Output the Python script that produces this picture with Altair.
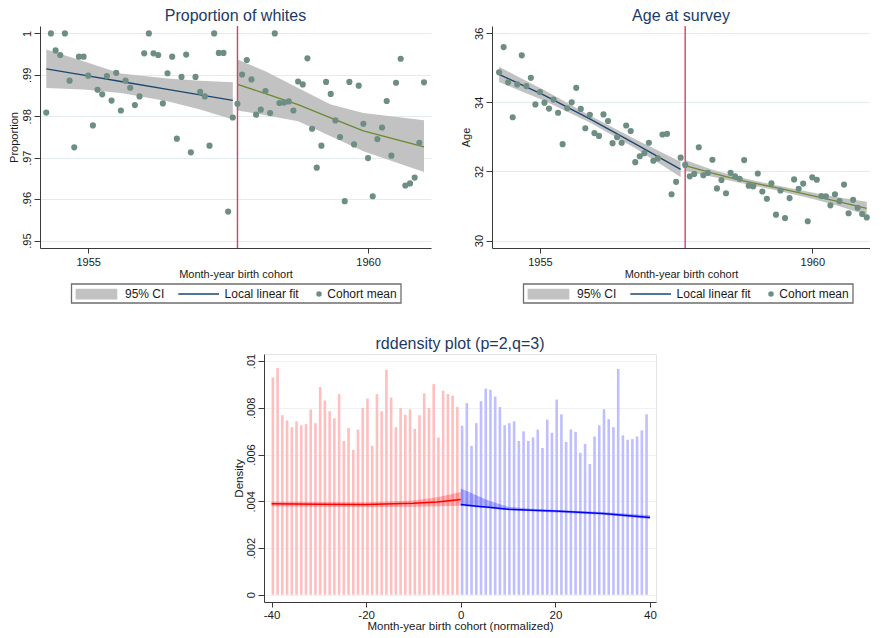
import altair as alt
import pandas as pd

FONT = "Liberation Sans"
CUT = 1957 + 8 / 12  # cutoff cohort (Sep 1957)

# ---------------- data: cohort means (months relative to cutoff) ----------------
months = list(range(-41, 41))

prop_white = [
    0.9809, 1.0, 0.9959, 0.9948, 1.0, 0.9886, 0.9725, 0.9944, 0.9944, 0.9898,
    0.9778, 0.9864, 0.9853, 0.9897, 0.9838, 0.9905, 0.9814, 0.9886, 0.9869, 0.9827,
    0.9848, 0.9952, 1.0, 0.9952, 0.9948, 0.9831, 0.9904, 0.9944, 0.9746, 0.9895,
    0.9949, 0.9713, 0.9895, 0.9859, 0.9848, 0.9729, 1.0, 0.9953, 0.9953, 0.9570,
    0.9797, 0.9830,
    0.9901, 0.9936, 0.9889, 0.9804, 0.9816, 0.9861, 0.9808, 1.0, 0.9832, 0.9833,
    0.9836, 0.9814, 0.9884, 0.9877, 0.9940, 0.9770, 0.9676, 0.9729, 0.9883, 0.9854,
    0.9790, 0.9750, 0.9595, 0.9883, 0.9732, 0.9874, 0.9782, 0.9699, 0.9607, 0.9745,
    0.9773, 0.9837, 0.9705, 0.9881, 0.9939, 0.9633, 0.9638, 0.9652, 0.9736, 0.9882,
]

age_survey = [
    34.87, 35.60, 34.58, 33.57, 34.52, 35.36, 34.47, 34.71, 33.94, 34.30,
    33.99, 33.82, 34.08, 33.70, 32.79, 33.83, 34.00, 34.42, 33.81, 33.25,
    33.64, 33.11, 33.03, 33.65, 33.46, 32.82, 32.99, 32.83, 33.33, 33.17,
    32.27, 32.44, 32.53, 32.83, 32.31, 32.38, 33.07, 33.09, 31.34, 31.70,
    32.40, 32.19,
    31.86, 31.93, 32.70, 31.89, 31.96, 32.34, 31.51, 31.75, 31.37, 31.96,
    31.86, 31.79, 32.33, 31.59, 31.57, 31.94, 31.42, 31.21, 31.66, 30.75,
    31.45, 30.65, 31.23, 31.77, 31.50, 31.65, 30.56, 31.83, 31.76, 31.29,
    31.28, 31.02, 31.34, 31.14, 31.62, 30.79, 31.18, 30.95, 30.77, 30.67,
]

# ---------------- local linear fits with 95% CI ----------------
pw_left_m = [-41, -33, -25, -15, -8, -1]
pw_left_fit = [0.99145, 0.98992, 0.98840, 0.98649, 0.98515, 0.98382]
pw_left_lo = [0.98686, 0.98645, 0.98560, 0.98365, 0.98164, 0.97923]
pw_left_hi = [0.99613, 0.99330, 0.99034, 0.98913, 0.98860, 0.98824]

pw_right_m = [0, 6, 13, 20, 27, 40]
pw_right_fit = [0.98768, 0.98550, 0.98280, 0.97960, 0.97650, 0.97261]
pw_right_lo = [0.98140, 0.98027, 0.97882, 0.97519, 0.97157, 0.96657]
pw_right_hi = [0.99372, 0.99089, 0.98686, 0.98285, 0.98082, 0.97906]

age_left_m = [-41, -31, -21, -11, -1]
age_left_fit = [34.81, 34.20, 33.52, 32.80, 32.06]
age_left_lo = [34.59, 34.05, 33.42, 32.67, 31.84]
age_left_hi = [35.03, 34.35, 33.62, 32.93, 32.28]

age_right_m = [0, 6, 12, 20, 28, 34, 40]
age_right_fit = [32.17, 31.95, 31.75, 31.53, 31.30, 31.12, 30.93]
age_right_lo = [32.01, 31.85, 31.67, 31.46, 31.21, 30.99, 30.74]
age_right_hi = [32.33, 32.05, 31.83, 31.60, 31.39, 31.25, 31.12]

legend_labels = ["95% CI", "Local linear fit", "Cohort mean"]
titles = ["Proportion of whites", "Age at survey", "rddensity plot (p=2,q=3)"]

# ---------------- rddensity histogram & density estimates ----------------
bins_left = list(range(-40, 0))
dens_left = [
    0.00930, 0.00970, 0.00768, 0.00746, 0.00717, 0.00742, 0.00725, 0.00730, 0.00793, 0.00734,
    0.00889, 0.00831, 0.00785, 0.00755, 0.00858, 0.00658, 0.00714, 0.00620, 0.00707, 0.00799,
    0.00839, 0.00637, 0.00858, 0.00785, 0.00962, 0.00844, 0.00717, 0.00799, 0.00770, 0.00793,
    0.00710, 0.00768, 0.00862, 0.00799, 0.00901, 0.00673, 0.00873, 0.00859, 0.00852, 0.00803,
]
bins_right = list(range(0, 40))
dens_right = [
    0.00723, 0.00820, 0.00637, 0.00734, 0.00828, 0.00882, 0.00877, 0.00848, 0.00803, 0.00725,
    0.00734, 0.00742, 0.00658, 0.00699, 0.00658, 0.00673, 0.00707, 0.00628, 0.00749, 0.00693,
    0.00835, 0.00772, 0.00654, 0.00707, 0.00697, 0.00607, 0.00645, 0.00559, 0.00677, 0.00725,
    0.00794, 0.00751, 0.00717, 0.00966, 0.00682, 0.00663, 0.00666, 0.00677, 0.00703, 0.00772,
]

red_x = [-40, -30, -20, -10, -5, 0]
red_fit = [0.00389, 0.00387, 0.00386, 0.00391, 0.00397, 0.00408]
red_lo = [0.00379, 0.00377, 0.00375, 0.00377, 0.00379, 0.00381]
red_hi = [0.00399, 0.00397, 0.00396, 0.00403, 0.00417, 0.00440]

blue_x = [0, 2, 4, 6, 8, 10, 15, 20, 30, 40]
blue_fit = [0.00386, 0.00382, 0.00378, 0.00374, 0.00370, 0.00366, 0.00361, 0.00358, 0.00348, 0.00331]
blue_lo = [0.00380, 0.00376, 0.00373, 0.00369, 0.00365, 0.00362, 0.00357, 0.00352, 0.00342, 0.00324]
blue_hi = [0.00455, 0.00437, 0.00419, 0.00402, 0.00389, 0.00377, 0.00368, 0.00363, 0.00354, 0.00340]

# ---------------- styling ----------------
TITLE_C = "#1c3a66"
TEAL = "#6e8e84"
NAVY = "#1a476f"
OLIVE = "#6a8a2e"
CUTRED = "#d8405f"
GRAY = "#c2c2c2"
AXIS_C = "#3a3a3a"
GRID_C = "#e2ebee"
TXT_C = "#1a1a1a"

XTITLE = "Month-year birth cohort"
ONE = pd.DataFrame({"k": [0]})


def to_year(ms):
    return [CUT + m / 12 for m in ms]


def title_mark(text, width, ypos):
    return alt.Chart(ONE).mark_text(align="center", baseline="alphabetic", fontSize=16,
                                    color=TITLE_C, font=FONT).encode(
        x=alt.value(width / 2), y=alt.value(ypos), text=alt.value(text))


def legend_layers(line_color):
    one = alt.Chart(ONE)
    box = one.mark_rect(fill="white", stroke="#6e6e6e", strokeWidth=1.3).encode(
        x=alt.value(31.5), x2=alt.value(361), y=alt.value(258), y2=alt.value(277))
    sw = one.mark_rect(color=GRAY).encode(
        x=alt.value(35.6), x2=alt.value(77.3), y=alt.value(262.7), y2=alt.value(273.4))
    ln = one.mark_rule(color=line_color, strokeWidth=1.3).encode(
        x=alt.value(138.3), x2=alt.value(179), y=alt.value(268))
    pt = one.mark_circle(size=30, color=TEAL, opacity=1).encode(
        x=alt.value(279), y=alt.value(268))
    texts = []
    for lab, xp in zip(legend_labels, [85, 184.6, 287.3]):
        texts.append(one.mark_text(align="left", baseline="middle", fontSize=12,
                                   color=TXT_C, font=FONT).encode(
            x=alt.value(xp), y=alt.value(268.2), text=alt.value(lab)))
    return [box, sw, ln, pt] + texts


def panel(values, ydom, yvals, ylabexpr, ytitle, title, xdom, width,
          lm, lfit, llo, lhi, rm, rfit, rlo, rhi):
    xscale = alt.Scale(domain=xdom, nice=False, zero=False)
    yscale = alt.Scale(domain=ydom, nice=False, zero=False)
    xaxis = alt.Axis(values=[1955, 1960], format="d", grid=False, tickSize=5,
                     labelFontSize=11, titleFontSize=11, labelPadding=3,
                     titlePadding=1, domainColor=AXIS_C, tickColor=AXIS_C,
                     labelColor=TXT_C, titleColor=TXT_C, titleFontWeight="normal")
    yaxis = alt.Axis(values=yvals, labelExpr=ylabexpr, grid=True, gridColor=GRID_C,
                     tickSize=6, labelAngle=270, labelAlign="center",
                     labelBaseline="bottom", labelFontSize=11, titleFontSize=11,
                     labelPadding=2, titlePadding=2, domainColor=AXIS_C,
                     tickColor=AXIS_C, labelColor=TXT_C, titleColor=TXT_C,
                     titleFontWeight="normal")

    def X(f):
        return alt.X(f, type="quantitative", scale=xscale, axis=xaxis, title=XTITLE)

    def Y(f):
        return alt.Y(f, type="quantitative", scale=yscale, axis=yaxis, title=ytitle)

    pts = pd.DataFrame({"year": to_year(months), "v": values})
    fl = pd.DataFrame({"year": to_year(lm), "fit": lfit, "lo": llo, "hi": lhi})
    fr = pd.DataFrame({"year": to_year(rm), "fit": rfit, "lo": rlo, "hi": rhi})
    cut = pd.DataFrame({"year": [CUT]})

    band_l = alt.Chart(fl).mark_area(color=GRAY, opacity=1).encode(
        x=X("year"), y=Y("lo"), y2="hi")
    band_r = alt.Chart(fr).mark_area(color=GRAY, opacity=1).encode(
        x=X("year"), y=Y("lo"), y2="hi")
    line_l = alt.Chart(fl).mark_line(color=NAVY, strokeWidth=1.3).encode(
        x=X("year"), y=Y("fit"))
    line_r = alt.Chart(fr).mark_line(color=OLIVE, strokeWidth=1.3).encode(
        x=X("year"), y=Y("fit"))
    rule = alt.Chart(cut).mark_rule(color=CUTRED, strokeWidth=1.4).encode(x=X("year"))
    dots = alt.Chart(pts).mark_circle(size=38, color=TEAL, opacity=1).encode(
        x=X("year"), y=Y("v"))

    layers = ([band_l, band_r, line_l, line_r, rule, dots] + legend_layers(NAVY)
              + [title_mark(title, width, -5)])
    return alt.layer(*layers).properties(width=width, height=222)


left = panel(prop_white, [0.9482, 1.0018], [0.95, 0.96, 0.97, 0.98, 0.99, 1.0],
             "datum.value > 0.9999 ? '1' : replace(format(datum.value, '.2f'), '0.', '.')",
             "Proportion", titles[0], [1954.138, 1961.125], 391,
             pw_left_m, pw_left_fit, pw_left_lo, pw_left_hi,
             pw_right_m, pw_right_fit, pw_right_lo, pw_right_hi)

right = panel(age_survey, [29.785, 36.21], [30, 32, 34, 36],
              "format(datum.value, 'd')",
              "Age", titles[1], [1954.12, 1961.06], 378,
              age_left_m, age_left_fit, age_left_lo, age_left_hi,
              age_right_m, age_right_fit, age_right_lo, age_right_hi)

top = alt.hconcat(left, right, spacing=29)

# ---------------- bottom: rddensity plot ----------------
BW, BH = 392, 248
bxs = alt.Scale(domain=[-41.6, 41.27], nice=False, zero=False)
bys = alt.Scale(domain=[-0.00031, 0.0103], nice=False, zero=False)
bxaxis = alt.Axis(values=[-40, -20, 0, 20, 40], labelExpr="'' + datum.value", grid=False,
                  tickSize=5, labelFontSize=11.5, titleFontSize=11.5, labelPadding=2,
                  titlePadding=0, domainColor=AXIS_C, tickColor=AXIS_C, labelColor=TXT_C,
                  titleColor=TXT_C, titleFontWeight="normal")
byaxis = alt.Axis(values=[0, 0.002, 0.004, 0.006, 0.008, 0.01],
                  labelExpr="datum.value == 0 ? '0' : replace(format(datum.value, '.3~f'), '0.', '.')",
                  grid=True, gridColor="#eef2f3", tickSize=6, labelAngle=270,
                  labelAlign="center", labelBaseline="bottom", labelFontSize=11,
                  titleFontSize=11.5, labelPadding=2, titlePadding=1,
                  domainColor=AXIS_C, tickColor=AXIS_C, labelColor=TXT_C,
                  titleColor=TXT_C, titleFontWeight="normal")
BXT = "Month-year birth cohort (normalized)"


def BX(f):
    return alt.X(f, type="quantitative", scale=bxs, axis=bxaxis, title=BXT)


def BY(f):
    return alt.Y(f, type="quantitative", scale=bys, axis=byaxis, title="Density")


hl = pd.DataFrame({"b": bins_left, "d": dens_left})
hl["b2"] = hl["b"] + 0.55
hr = pd.DataFrame({"b": bins_right, "d": dens_right})
hr["b2"] = hr["b"] + 0.55
dl = pd.DataFrame({"x": red_x, "fit": red_fit, "lo": red_lo, "hi": red_hi})
dr = pd.DataFrame({"x": blue_x, "fit": blue_fit, "lo": blue_lo, "hi": blue_hi})

bars_l = alt.Chart(hl).mark_rect(color="#ffbfbf").encode(
    x=BX("b"), x2="b2", y=BY("d"), y2=alt.datum(0))
bars_r = alt.Chart(hr).mark_rect(color="#bfbfff").encode(
    x=BX("b"), x2="b2", y=BY("d"), y2=alt.datum(0))
area_l = alt.Chart(dl).mark_area(color="#ff0000", opacity=0.28).encode(
    x=BX("x"), y=BY("lo"), y2="hi")
area_r = alt.Chart(dr).mark_area(color="#0000ff", opacity=0.28).encode(
    x=BX("x"), y=BY("lo"), y2="hi")
dline_l = alt.Chart(dl).mark_line(color="#ff0000", strokeWidth=1.5).encode(
    x=BX("x"), y=BY("fit"))
dline_r = alt.Chart(dr).mark_line(color="#0000ff", strokeWidth=1.5).encode(
    x=BX("x"), y=BY("fit"))

bottom = alt.layer(bars_l, bars_r, area_l, area_r, dline_l, dline_r,
                   title_mark(titles[2], BW, -4.7)).properties(
    width=BW, height=BH, view=alt.ViewBackground(stroke="#e4e4e4"))

# empty spacer that shifts the bottom panel to the centre of the page
spacer = alt.Chart(ONE).mark_point(size=1, opacity=0).encode(
    x=alt.value(0), y=alt.value(0)).properties(width=192, height=10)

bottom_row = alt.hconcat(spacer, bottom, spacing=0)

chart = alt.vconcat(top, bottom_row, spacing=31).properties(
    padding={"left": 0, "top": 0, "right": 0, "bottom": 0}
).configure(font=FONT).configure_view(stroke=None)

chart.save("out.html", embed_options={"renderer": "svg", "actions": False})
